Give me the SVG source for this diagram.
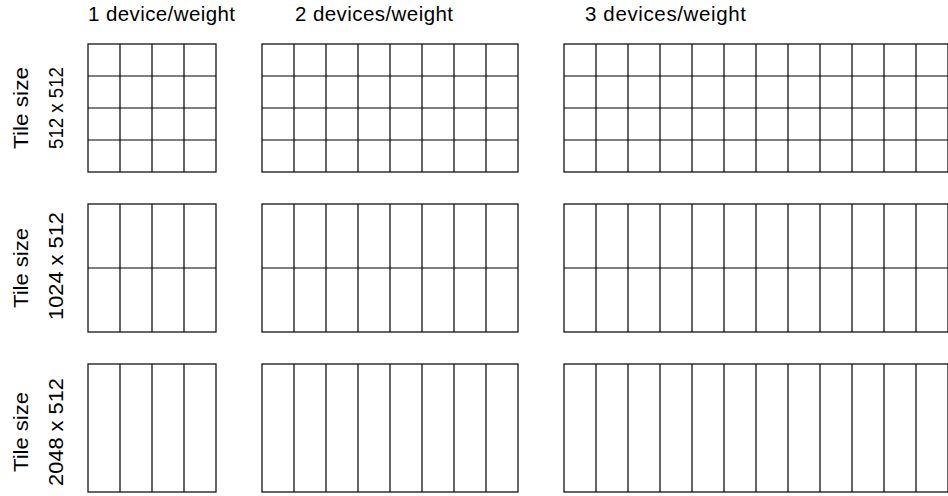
<svg xmlns="http://www.w3.org/2000/svg" width="948" height="496" viewBox="0 0 948 496">
<style>
.t{font-family:"Liberation Sans",Arial,sans-serif;font-size:20.5px;fill:#000}
.l{font-family:"Liberation Sans",Arial,sans-serif;font-size:21px;fill:#000;text-anchor:middle}
.g{fill:#fff;stroke:#000;stroke-width:1.2}
.g path{fill:none}
</style>
<rect width="948" height="496" fill="#fff"/>
<g id="titles">
<text class="t" x="88" y="21" textLength="147" lengthAdjust="spacing">1 device/weight</text>
<text class="t" x="295" y="21" textLength="158" lengthAdjust="spacing">2 devices/weight</text>
<text class="t" x="585" y="21" textLength="161" lengthAdjust="spacing">3 devices/weight</text>
</g>
<g id="row-labels">
<text class="l" transform="translate(28,108) rotate(-90)" textLength="82" lengthAdjust="spacingAndGlyphs">Tile size</text>
<text class="l" transform="translate(63,108) rotate(-90)" textLength="82" lengthAdjust="spacingAndGlyphs">512 x 512</text>
<text class="l" transform="translate(28,268) rotate(-90)" textLength="80" lengthAdjust="spacingAndGlyphs">Tile size</text>
<text class="l" transform="translate(63,266) rotate(-90)" textLength="108" lengthAdjust="spacingAndGlyphs">1024 x 512</text>
<text class="l" transform="translate(28,432) rotate(-90)" textLength="80" lengthAdjust="spacingAndGlyphs">Tile size</text>
<text class="l" transform="translate(63,432) rotate(-90)" textLength="108" lengthAdjust="spacingAndGlyphs">2048 x 512</text>
</g>
<g id="grid-r1-c1" class="g">
<rect x="88" y="44" width="128" height="128"/>
<path d="M120 44V172M152 44V172M184 44V172M88 76H216M88 108H216M88 140H216"/>
</g>
<g id="grid-r1-c2" class="g">
<rect x="262" y="44" width="256" height="128"/>
<path d="M294 44V172M326 44V172M358 44V172M390 44V172M422 44V172M454 44V172M486 44V172M262 76H518M262 108H518M262 140H518"/>
</g>
<g id="grid-r1-c3" class="g">
<rect x="564" y="44" width="384" height="128"/>
<path d="M596 44V172M628 44V172M660 44V172M692 44V172M724 44V172M756 44V172M788 44V172M820 44V172M852 44V172M884 44V172M916 44V172M564 76H948M564 108H948M564 140H948"/>
</g>
<g id="grid-r2-c1" class="g">
<rect x="88" y="204" width="128" height="128"/>
<path d="M120 204V332M152 204V332M184 204V332M88 268H216"/>
</g>
<g id="grid-r2-c2" class="g">
<rect x="262" y="204" width="256" height="128"/>
<path d="M294 204V332M326 204V332M358 204V332M390 204V332M422 204V332M454 204V332M486 204V332M262 268H518"/>
</g>
<g id="grid-r2-c3" class="g">
<rect x="564" y="204" width="384" height="128"/>
<path d="M596 204V332M628 204V332M660 204V332M692 204V332M724 204V332M756 204V332M788 204V332M820 204V332M852 204V332M884 204V332M916 204V332M564 268H948"/>
</g>
<g id="grid-r3-c1" class="g">
<rect x="88" y="364" width="128" height="128"/>
<path d="M120 364V492M152 364V492M184 364V492"/>
</g>
<g id="grid-r3-c2" class="g">
<rect x="262" y="364" width="256" height="128"/>
<path d="M294 364V492M326 364V492M358 364V492M390 364V492M422 364V492M454 364V492M486 364V492"/>
</g>
<g id="grid-r3-c3" class="g">
<rect x="564" y="364" width="384" height="128"/>
<path d="M596 364V492M628 364V492M660 364V492M692 364V492M724 364V492M756 364V492M788 364V492M820 364V492M852 364V492M884 364V492M916 364V492"/>
</g>
<g id="connectors"/>
</svg>
